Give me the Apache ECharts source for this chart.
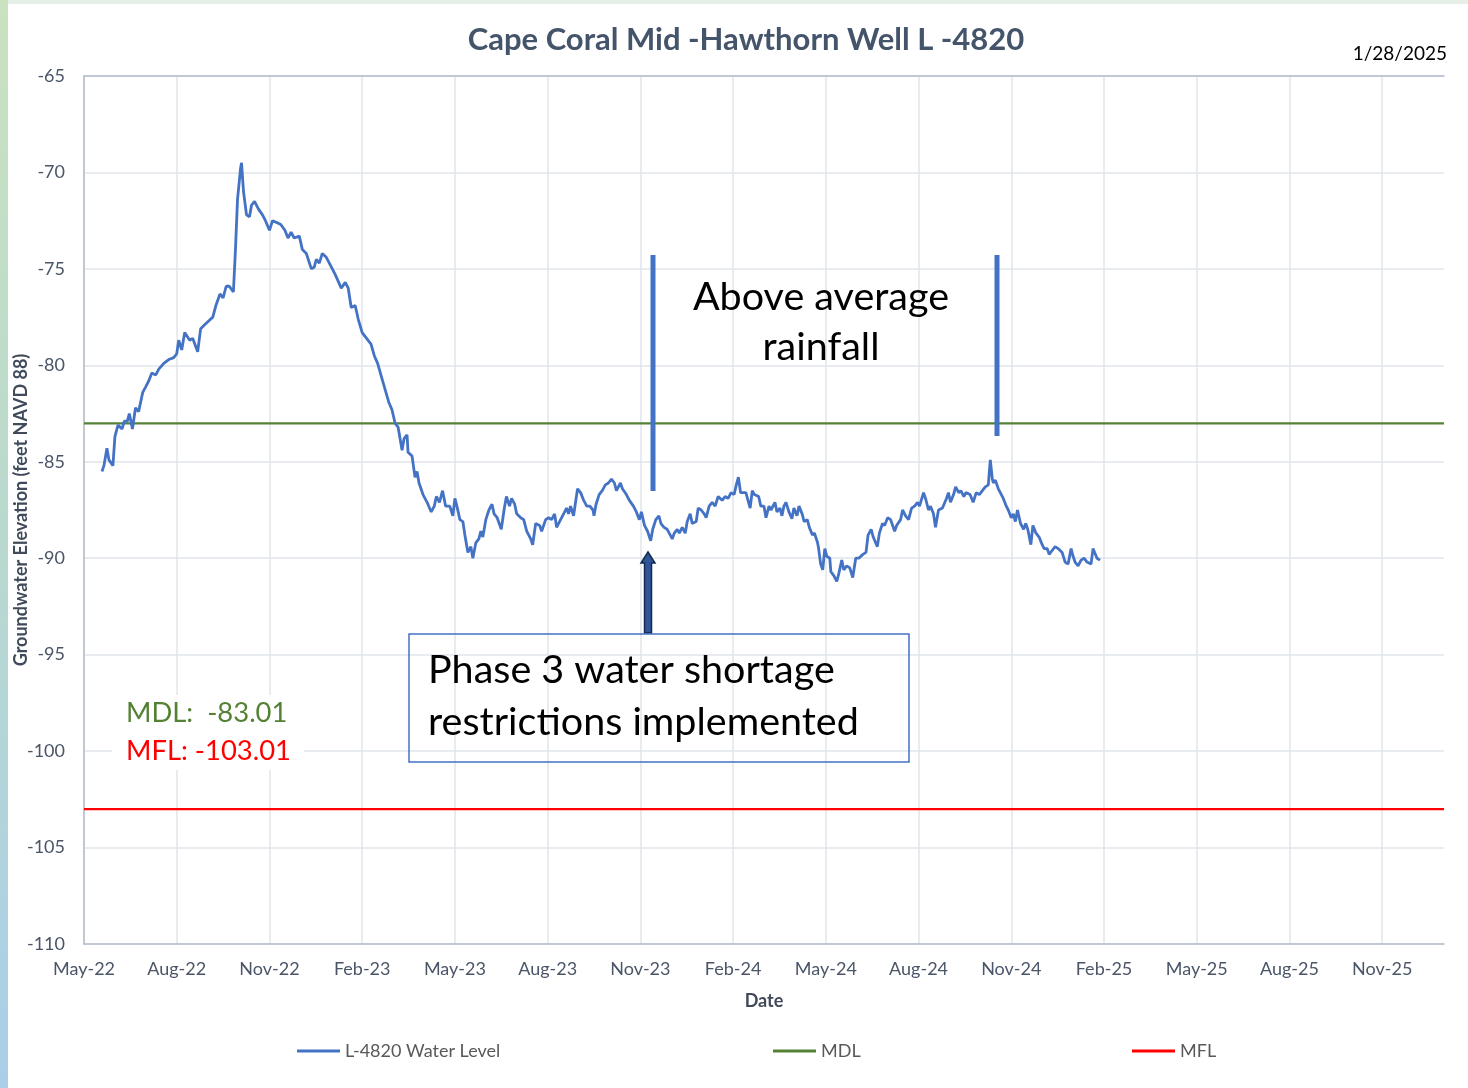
<!DOCTYPE html>
<html>
<head>
<meta charset="utf-8">
<script src="https://cdn.jsdelivr.net/npm/echarts@6/dist/echarts.min.js"></script>
<style>
html,body{margin:0;padding:0;background:#fff;}
#chart{width:1468px;height:1088px;}
</style>
</head>
<body>
<div id="chart"></div>
<script>
// ---- data ----
const dates = [
'2022-05-19','2022-05-21','2022-05-24','2022-05-26','2022-05-30','2022-06-01','2022-06-04','2022-06-08','2022-06-10','2022-06-13',
'2022-06-15','2022-06-18','2022-06-21','2022-06-24','2022-06-28','2022-07-01','2022-07-04','2022-07-07','2022-07-11','2022-07-14',
'2022-07-19','2022-07-24','2022-07-29','2022-08-01','2022-08-03','2022-08-06','2022-08-09','2022-08-14','2022-08-17','2022-08-22',
'2022-08-25','2022-08-29','2022-09-02','2022-09-06','2022-09-09','2022-09-13','2022-09-16','2022-09-19','2022-09-22','2022-09-26',
'2022-09-28','2022-09-30','2022-10-03','2022-10-04','2022-10-06','2022-10-09','2022-10-12','2022-10-14','2022-10-17','2022-10-21',
'2022-10-25','2022-10-28','2022-11-01','2022-11-04','2022-11-08','2022-11-12','2022-11-16','2022-11-19','2022-11-22','2022-11-25',
'2022-11-30','2022-12-03','2022-12-07','2022-12-12','2022-12-15','2022-12-17','2022-12-20','2022-12-23','2022-12-27','2023-01-01',
'2023-01-05','2023-01-11','2023-01-15','2023-01-18','2023-01-21','2023-01-25','2023-01-28','2023-02-01','2023-02-05','2023-02-09',
'2023-02-12','2023-02-15','2023-02-19','2023-02-22','2023-02-25','2023-02-28','2023-03-03','2023-03-06','2023-03-10','2023-03-12',
'2023-03-15','2023-03-16','2023-03-20','2023-03-23','2023-03-25','2023-03-27','2023-03-31','2023-04-04','2023-04-08','2023-04-11',
'2023-04-13','2023-04-16','2023-04-19','2023-04-22','2023-04-26','2023-04-29','2023-05-01','2023-05-03','2023-05-06','2023-05-09',
'2023-05-11','2023-05-14','2023-05-17','2023-05-19','2023-05-22','2023-05-25','2023-05-27','2023-05-29','2023-06-01','2023-06-04',
'2023-06-07','2023-06-09','2023-06-12','2023-06-16','2023-06-19','2023-06-21','2023-06-24','2023-06-26','2023-06-29','2023-07-01',
'2023-07-05','2023-07-08','2023-07-11','2023-07-15','2023-07-17','2023-07-20','2023-07-24','2023-07-26','2023-07-30','2023-08-02',
'2023-08-05','2023-08-08','2023-08-10','2023-08-14','2023-08-16','2023-08-20','2023-08-22','2023-08-24','2023-08-27','2023-08-31',
'2023-09-03','2023-09-06','2023-09-09','2023-09-12','2023-09-15','2023-09-16','2023-09-18','2023-09-21','2023-09-24','2023-09-27',
'2023-09-30','2023-10-03','2023-10-06','2023-10-08','2023-10-12','2023-10-14','2023-10-18','2023-10-21','2023-10-25','2023-10-28',
'2023-10-31','2023-11-02','2023-11-05','2023-11-08','2023-11-11','2023-11-13','2023-11-16','2023-11-19','2023-11-21','2023-11-24',
'2023-11-27','2023-11-29','2023-12-02','2023-12-04','2023-12-07','2023-12-09','2023-12-12','2023-12-15','2023-12-17','2023-12-20',
'2023-12-22','2023-12-26','2023-12-28','2023-12-31','2024-01-03','2024-01-05','2024-01-08','2024-01-11','2024-01-14','2024-01-17',
'2024-01-21','2024-01-24','2024-01-27','2024-01-30','2024-02-02','2024-02-04','2024-02-06','2024-02-08','2024-02-11','2024-02-13',
'2024-02-17','2024-02-19','2024-02-21','2024-02-25','2024-02-27','2024-03-01','2024-03-03','2024-03-06','2024-03-08','2024-03-12',
'2024-03-14','2024-03-17','2024-03-19','2024-03-21','2024-03-23','2024-03-26','2024-03-29','2024-03-31','2024-04-03','2024-04-05',
'2024-04-08','2024-04-10','2024-04-13','2024-04-15','2024-04-18','2024-04-20','2024-04-23','2024-04-24','2024-04-26','2024-04-28',
'2024-04-30','2024-05-02','2024-05-05','2024-05-06','2024-05-09','2024-05-12','2024-05-14','2024-05-17','2024-05-19','2024-05-22',
'2024-05-25','2024-05-28','2024-05-31','2024-06-03','2024-06-07','2024-06-10','2024-06-12','2024-06-15','2024-06-17','2024-06-21',
'2024-06-23','2024-06-26','2024-06-28','2024-07-01','2024-07-04','2024-07-08','2024-07-10','2024-07-14','2024-07-16','2024-07-19',
'2024-07-22','2024-07-25','2024-07-28','2024-07-31','2024-08-02','2024-08-06','2024-08-08','2024-08-11','2024-08-13','2024-08-16',
'2024-08-18','2024-08-21','2024-08-25','2024-08-29','2024-08-31','2024-09-02','2024-09-05','2024-09-07','2024-09-10','2024-09-12',
'2024-09-15','2024-09-17','2024-09-21','2024-09-24','2024-09-27','2024-09-30','2024-10-03','2024-10-06','2024-10-09','2024-10-10',
'2024-10-11','2024-10-13','2024-10-14','2024-10-16','2024-10-19','2024-10-21','2024-10-24','2024-10-27','2024-10-29','2024-11-01',
'2024-11-03','2024-11-05','2024-11-07','2024-11-10','2024-11-13','2024-11-15','2024-11-17','2024-11-20','2024-11-22','2024-11-25',
'2024-11-28','2024-12-01','2024-12-03','2024-12-06','2024-12-08','2024-12-11','2024-12-14','2024-12-17','2024-12-21','2024-12-24',
'2024-12-27','2024-12-30','2025-01-01','2025-01-03','2025-01-06','2025-01-09','2025-01-12','2025-01-15','2025-01-19','2025-01-21',
'2025-01-23','2025-01-25','2025-01-28'
];
const levels = [
-85.5,-85.2,-84.3,-84.9,-85.2,-83.7,-83.1,-83.3,-82.9,-82.9,
-82.5,-83.3,-82.2,-82.4,-81.4,-81.1,-80.8,-80.4,-80.5,-80.2,
-79.9,-79.7,-79.6,-79.4,-78.7,-79.2,-78.3,-78.7,-78.6,-79.3,
-78.1,-77.9,-77.7,-77.5,-76.9,-76.3,-76.5,-75.9,-75.9,-76.2,
-74.0,-71.4,-69.8,-69.5,-71.0,-72.2,-72.3,-71.7,-71.5,-71.9,
-72.2,-72.5,-73.0,-72.5,-72.6,-72.7,-73.0,-73.4,-73.1,-73.4,
-73.3,-74.0,-74.2,-75.0,-74.9,-74.5,-74.7,-74.2,-74.4,-74.9,
-75.3,-76.0,-75.7,-76.0,-77.0,-76.9,-77.6,-78.3,-78.6,-78.9,
-79.5,-79.9,-80.7,-81.3,-81.9,-82.3,-83.0,-83.2,-84.4,-83.8,
-83.6,-84.5,-84.7,-85.8,-85.5,-86.1,-86.7,-87.1,-87.6,-87.3,
-86.8,-87.1,-86.5,-87.3,-87.3,-87.8,-86.9,-87.3,-88.0,-88.1,
-88.8,-89.7,-89.4,-90.0,-89.2,-89.0,-88.6,-88.9,-88.0,-87.5,
-87.2,-87.7,-87.9,-88.5,-87.4,-86.8,-87.3,-86.9,-87.2,-87.7,
-87.9,-88.0,-88.6,-89.0,-89.3,-88.2,-88.3,-88.6,-88.0,-87.9,
-88.0,-87.7,-88.4,-88.0,-87.8,-87.4,-87.7,-87.3,-87.8,-86.4,
-86.6,-87.0,-87.3,-87.3,-87.5,-87.8,-87.2,-86.7,-86.5,-86.2,
-86.1,-85.9,-86.1,-86.5,-86.1,-86.4,-86.7,-87.0,-87.3,-87.6,
-88.0,-87.6,-88.3,-88.6,-89.1,-88.5,-88.0,-87.8,-88.2,-88.4,
-88.5,-88.7,-89.0,-88.7,-88.5,-88.7,-88.4,-88.7,-88.1,-87.7,
-88.2,-88.1,-87.4,-87.5,-87.7,-87.9,-87.3,-87.1,-87.3,-86.8,
-87.0,-86.8,-86.9,-86.6,-86.7,-86.2,-85.8,-86.6,-86.6,-86.6,
-87.4,-86.5,-86.7,-86.8,-87.3,-87.3,-87.9,-87.3,-87.5,-87.1,
-87.6,-87.4,-87.8,-87.3,-87.1,-87.6,-87.95,-87.4,-87.8,-87.3,
-87.7,-88.1,-88.0,-88.4,-88.8,-88.7,-89.2,-89.5,-90.3,-90.6,
-89.5,-89.9,-90.0,-90.7,-90.9,-91.2,-90.8,-90.1,-90.6,-90.4,
-90.5,-91.0,-90.0,-90.0,-89.8,-89.7,-88.8,-88.5,-88.9,-89.4,
-88.7,-88.2,-88.3,-87.9,-88.0,-88.6,-88.3,-88.0,-87.5,-87.8,
-88.0,-87.4,-87.3,-87.1,-87.3,-86.6,-86.9,-87.5,-87.3,-87.7,
-88.4,-87.5,-87.4,-86.9,-86.6,-87.1,-86.7,-86.3,-86.6,-86.5,
-86.8,-86.6,-86.7,-87.1,-86.6,-86.7,-86.5,-86.3,-86.2,-85.5,
-84.9,-85.9,-86.1,-85.95,-86.4,-86.6,-86.9,-87.3,-87.5,-87.9,
-87.7,-88.1,-87.5,-88.2,-88.5,-88.2,-88.5,-89.3,-88.3,-88.7,
-88.9,-89.3,-89.5,-89.5,-89.8,-89.6,-89.4,-89.5,-89.7,-90.2,
-90.3,-89.5,-89.9,-90.2,-90.4,-90.1,-90.0,-90.2,-90.3,-89.5,
-89.5,-90.0,-90.1
];
const mdlLevel = -83.01;
const mflLevel = -103.01;
const tickLabels = ['May-22','Aug-22','Nov-22','Feb-23','May-23','Aug-23','Nov-23','Feb-24','May-24','Aug-24','Nov-24','Feb-25','May-25','Aug-25','Nov-25'];
const seriesNames = ['L-4820 Water Level','MDL','MFL'];

// axis unit: months since 1 May 2022 (fractional by day)
function monthPos(s){
  const p = s.split('-').map(Number);
  const dim = new Date(Date.UTC(p[0], p[1], 0)).getUTCDate();
  return (p[0]-2022)*12 + (p[1]-1) - 4 + (p[2]-1)/dim;
}
const X_MIN = 0, X_MAX = 44;
const wellData = dates.map((d,i)=>[monthPos(d), levels[i]]);

const FONT = 'Lato, "Open Sans", sans-serif';
const legendText = {fontFamily:FONT, fontSize:18, color:'#595959'};
const chart = echarts.init(document.getElementById('chart'), null, {renderer:'canvas'});
chart.setOption({
  animation:false,
  backgroundColor:'#ffffff',
  grid:{left:84, right:24, top:76, bottom:144, containLabel:false, outerBoundsMode:'none'},
  xAxis:[{
    type:'value', min:X_MIN, max:X_MAX, interval:3,
    name:'Date', nameLocation:'middle', nameGap:48, nameMoveOverlap:false,
    nameTextStyle:{fontFamily:FONT, fontWeight:'bold', fontSize:18, color:'#404a5a'},
    axisLine:{show:true, lineStyle:{color:'#b4bdcc', width:1.5}},
    axisTick:{show:false},
    axisLabel:{fontFamily:FONT, fontSize:18, color:'#4a5568', margin:16,
      formatter:function(v){ return (v%3===0 && tickLabels[v/3]) ? tickLabels[v/3] : ''; }},
    splitLine:{show:true, showMaxLine:false, lineStyle:{color:'#e0e4ea', width:1.5}}
  },{
    type:'value', min:X_MIN, max:X_MAX, position:'top',
    axisLine:{show:true, lineStyle:{color:'#b4bdcc', width:1.5}},
    axisTick:{show:false}, axisLabel:{show:false}, splitLine:{show:false}
  }],
  yAxis:{
    type:'value', min:-110, max:-65, interval:5,
    name:'Groundwater Elevation (feet NAVD 88)', nameLocation:'middle', nameGap:54, nameMoveOverlap:false,
    nameTextStyle:{fontFamily:FONT, fontWeight:'bold', fontSize:18, color:'#404a5a'},
    axisLine:{show:true, lineStyle:{color:'#b4bdcc', width:1.5}},
    axisTick:{show:false},
    axisLabel:{fontFamily:FONT, fontSize:18, color:'#4a5568', margin:19},
    splitLine:{show:true, lineStyle:{color:'#e0e4ea', width:1.5}}
  },
  legend:[
    {data:[seriesNames[0]], left:297, top:1042, padding:0, icon:'rect', itemWidth:43, itemHeight:3, textStyle:legendText},
    {data:[seriesNames[1]], left:773, top:1042, padding:0, icon:'rect', itemWidth:43, itemHeight:3, textStyle:legendText},
    {data:[seriesNames[2]], left:1132, top:1042, padding:0, icon:'rect', itemWidth:43, itemHeight:3, textStyle:legendText}
  ],
  series:[
    {name:seriesNames[0], type:'line', data:wellData, symbol:'none', z:4,
     lineStyle:{color:'#4472c4', width:2.8}, itemStyle:{color:'#4472c4'}},
    {name:seriesNames[1], type:'line', data:[[X_MIN,mdlLevel],[X_MAX,mdlLevel]], symbol:'none', z:3,
     lineStyle:{color:'#548235', width:2.4}, itemStyle:{color:'#548235'}},
    {name:seriesNames[2], type:'line', data:[[X_MIN,mflLevel],[X_MAX,mflLevel]], symbol:'none', z:3,
     lineStyle:{color:'#ff0000', width:2.4}, itemStyle:{color:'#ff0000'}}
  ],
  graphic:[
    {type:'rect', z:0, shape:{x:0,y:0,width:8,height:1088},
     style:{fill:new echarts.graphic.LinearGradient(0,0,0,1,[{offset:0,color:'#c9e2bf'},{offset:0.5,color:'#b9d9cf'},{offset:1,color:'#a9cfe9'}])}},
    {type:'rect', z:0, shape:{x:8,y:0,width:1460,height:4}, style:{fill:'#e6efe6'}},
    {type:'text', z:100, x:746, y:40, style:{text:'Cape Coral Mid -Hawthorn Well L -4820', font:'bold 31px '+FONT, fill:'#44546a', textAlign:'center', textVerticalAlign:'middle'}},
    {type:'text', z:100, x:1447, y:54, style:{text:'1/28/2025', font:'19px '+FONT, fill:'#000000', textAlign:'right', textVerticalAlign:'middle'}},
    // rainfall period markers
    {type:'rect', z:100, shape:{x:650.5,y:255,width:5,height:236}, style:{fill:'#4472c4'}},
    {type:'rect', z:100, shape:{x:994.5,y:255,width:5,height:181}, style:{fill:'#4472c4'}},
    {type:'text', z:100, x:821, y:297, style:{text:'Above average', font:'39.5px '+FONT, fill:'#000000', textAlign:'center', textVerticalAlign:'middle'}},
    {type:'text', z:100, x:821, y:347, style:{text:'rainfall', font:'39.5px '+FONT, fill:'#000000', textAlign:'center', textVerticalAlign:'middle'}},
    // phase 3 arrow and box
    {type:'polygon', z:100, shape:{points:[[644.5,633],[651.5,633],[651.5,563],[655,563],[648,552],[641,563],[644.5,563]]},
     style:{fill:'#2f5597', stroke:'#13294f', lineWidth:1.5}},
    {type:'rect', z:100, shape:{x:409,y:634,width:500,height:128}, style:{fill:'rgba(0,0,0,0)', stroke:'#4472c4', lineWidth:1.5}},
    {type:'text', z:100, x:428, y:670, style:{text:'Phase 3 water shortage', font:'39.5px '+FONT, fill:'#000000', textAlign:'left', textVerticalAlign:'middle'}},
    {type:'text', z:100, x:428, y:722, style:{text:'restrictions implemented', font:'39.5px '+FONT, fill:'#000000', textAlign:'left', textVerticalAlign:'middle'}},
    // MDL / MFL labels
    {type:'rect', z:99, shape:{x:112,y:695,width:192,height:75}, style:{fill:'#ffffff'}},
    {type:'text', z:100, x:126, y:713, style:{text:'MDL:  -83.01', font:'27.4px '+FONT, fill:'#548235', textAlign:'left', textVerticalAlign:'middle'}},
    {type:'text', z:100, x:126, y:751, style:{text:'MFL: -103.01', font:'27.4px '+FONT, fill:'#ff0000', textAlign:'left', textVerticalAlign:'middle'}}
  ]
});
</script>
</body>
</html>
